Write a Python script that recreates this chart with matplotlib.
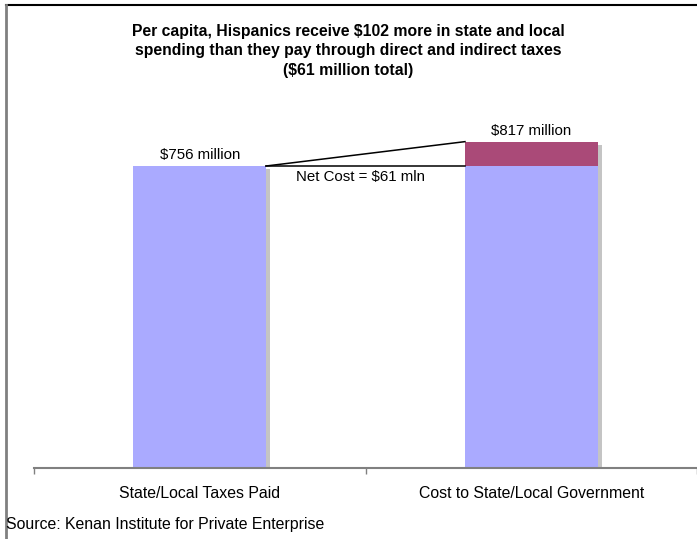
import matplotlib.pyplot as plt
import matplotlib.patheffects as pe
from matplotlib.lines import Line2D

CATEGORIES = ["State/Local Taxes Paid", "Cost to State/Local Government"]
BASE_VALUES = [756, 756]
NET_COST = [0, 61]
TOP_LABELS = ["$756 million", "$817 million"]
TITLE = ("Per capita, Hispanics receive $102 more in state and local\n"
         "spending than they pay through direct and indirect taxes\n"
         "($61 million total)")
SOURCE = "Source: Kenan Institute for Private Enterprise"

BLUE = "#aaaaff"
PLUM = "#aa4a78"
SHADOW = "#c4c4c4"
FONT = "Liberation Sans"


def main():
    fig = plt.figure(figsize=(6.97, 5.39), dpi=100)
    ax = fig.add_axes([34 / 697, 1 - 468 / 539, 1 - 34 / 697, 367.5 / 539])

    x = list(range(len(CATEGORIES)))
    width = 0.4
    shadow = [pe.SimplePatchShadow(offset=(3, -2.2), shadow_rgbFace=SHADOW, alpha=1.0), pe.Normal()]
    totals = [b + n for b, n in zip(BASE_VALUES, NET_COST)]
    ax.bar(x, totals, width=width, color="none", path_effects=shadow, zorder=1)
    ax.bar(x, BASE_VALUES, width=width, color=BLUE, zorder=2)
    ax.bar(x, NET_COST, bottom=BASE_VALUES, width=width, color=PLUM, zorder=2)

    for xi, t, lab in zip(x, totals, TOP_LABELS):
        ax.text(xi, t + 9, lab, ha="center", va="bottom", fontsize=10.8, family=FONT)

    # connector lines between the bars
    x0 = x[0] + width / 2
    x1 = x[1] - width / 2
    ax.plot([x0, x1], [BASE_VALUES[0], BASE_VALUES[1]], color="black", lw=1.1, zorder=3)
    ax.plot([x0, x1], [BASE_VALUES[0], totals[1]], color="black", lw=1.1, zorder=3)
    ax.text(x0 + 0.09, BASE_VALUES[0] - 9, f"Net Cost = ${NET_COST[1]} mln", ha="left", va="top",
            fontsize=10.8, family=FONT)

    ax.set_xlim(-0.5, 1.5)
    ax.set_ylim(0, 920)
    ax.set_yticks([])
    for s in ["top", "right", "left"]:
        ax.spines[s].set_visible(False)
    ax.spines["bottom"].set_color("#808080")
    ax.spines["bottom"].set_linewidth(1.5)
    ax.spines["bottom"].set_zorder(4)
    ax.set_xticks([-0.5, 0.5, 1.5])
    ax.set_xticklabels([])
    ax.tick_params(axis="x", which="major", length=4, color="#808080", width=1)
    ax.set_xticks(x, minor=True)
    ax.set_xticklabels(CATEGORIES, minor=True, fontsize=11.4, family=FONT)
    ax.tick_params(axis="x", which="minor", length=0, pad=13)

    fig.text(0.5, 1 - 24 / 539, TITLE, ha="center", va="top", fontsize=11.3, fontweight="bold",
             family=FONT, linespacing=1.36)
    fig.text(6 / 697, 1 - 525 / 539, SOURCE, ha="left", va="center", fontsize=11.4, family=FONT)

    fig.add_artist(Line2D([6 / 697, 1], [1 - 5 / 539, 1 - 5 / 539], color="black", lw=1.5,
                          transform=fig.transFigure))
    fig.add_artist(Line2D([6 / 697, 6 / 697], [0, 1 - 5 / 539], color="#808080", lw=2,
                          transform=fig.transFigure))

    fig.savefig("out.png", dpi=100)
    plt.close(fig)


if __name__ == "__main__":
    main()
